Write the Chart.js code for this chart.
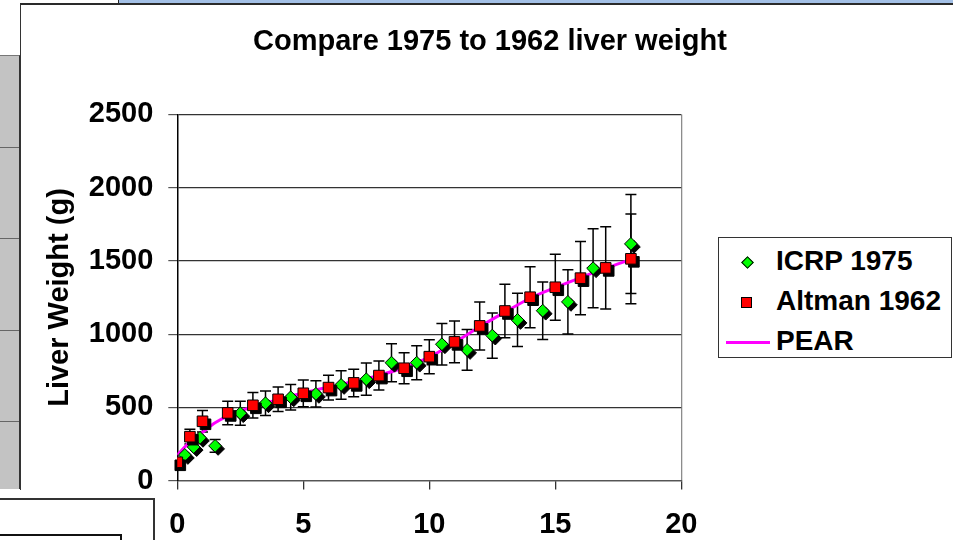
<!DOCTYPE html>
<html>
<head>
<meta charset="utf-8">
<title>Compare 1975 to 1962 liver weight</title>
<script src="https://cdn.jsdelivr.net/npm/chart.js@4.4.1/dist/chart.umd.min.js"></script>
<style>
  html, body { margin: 0; padding: 0; background: #fff; }
  body { width: 953px; height: 540px; position: relative; overflow: hidden; font-family: "Liberation Sans", Arial, sans-serif; }
  .band { position: absolute; left: 118px; top: 0; width: 840px; height: 3px; background: #a3c0e6; border-left: 1px solid #222; }
  .frame { position: absolute; left: 20px; top: 3px; width: 960px; height: 560px; border-top: 2px solid #2a2a2a; border-left: 1px solid #333; background: #fff; }
  .cells { position: absolute; left: 0; top: 55px; width: 19px; height: 433px; background: #c3c3c3; border-top: 1px solid #777; border-right: 1px solid #333; }
  .cells div { position: absolute; left: 0; width: 19px; height: 0; border-top: 1px solid #666; }
  .gap { position: absolute; left: 0; top: 490px; width: 23px; height: 10px; background: #fff; }
  #chart { position: absolute; left: 0; top: 0; z-index: 1; }
  .note { position: absolute; left: -3px; top: 498px; width: 154px; height: 60px; background: #fff; border: 2px solid #333; z-index: 2; }
  .note div { position: absolute; left: -2px; top: 34px; width: 121px; height: 30px; border: 2px solid #111; }
  #legend { position: absolute; left: 718px; top: 237px; width: 232px; height: 119px; border: 1px solid #333; background: #fff; z-index: 2; }
  #legend .item { position: absolute; left: 57px; height: 28px; line-height: 28px; font-size: 28px; font-weight: bold; color: #000; white-space: nowrap; }
  #legend .mark { position: absolute; box-sizing: border-box; }
</style>
</head>
<body>
<div class="band"></div>
<div class="frame"></div>
<div class="cells"><div style="top:91px"></div><div style="top:182px"></div><div style="top:274px"></div><div style="top:365px"></div></div>
<div class="gap"></div>
<canvas id="chart" width="953" height="540"></canvas>
<div id="legend"></div>
<div class="note"><div></div></div>
<script>
// ICRP 1975 reference values: age (years), liver weight (g), +/- spread
const icrpAge = [0.3, 0.65, 0.9, 1.5, 2.5, 3.5, 4.5, 5.5, 6.5, 7.5, 8.5, 9.5, 10.5, 11.5, 12.5, 13.5, 14.5, 15.5, 16.5, 18];
const icrpWeight = [175, 229, 292, 237, 460, 528, 569, 592, 653, 692, 805, 805, 931, 892, 990, 1097, 1160, 1220, 1450, 1616];
const icrpSd = [0, 0, 0, 44, 82, 83, 87, 89, 97, 110, 130, 116, 142, 139, 154, 182, 196, 220, 270, 338];

// Altman 1962
const altmanAge = [0, 0.5, 1, 2, 3, 4, 5, 6, 7, 8, 9, 10, 11, 12, 13, 14, 15, 16, 17, 18];
const altmanWeight = [125, 300, 405, 462, 514, 555, 596, 635, 667, 717, 767, 846, 947, 1056, 1158, 1252, 1320, 1382, 1452, 1514];
const altmanSd = [0, 50, 73, 80, 87, 84, 91, 85, 94, 99, 105, 116, 142, 164, 182, 208, 225, 250, 281, 306];

// PEAR curve
const pearAge = [0, 0.5, 1, 1.5, 2, 3, 4, 5, 6, 7, 8, 9, 10, 11, 12, 13, 14, 15, 16, 17, 18];
const pearWeight = [175, 265, 330, 395, 440, 505, 553, 598, 638, 676, 718, 772, 843, 942, 1050, 1150, 1245, 1318, 1385, 1450, 1510];

const ageTicks = { min: 0, max: 20, step: 5 };
const weightTicks = { min: 0, max: 2500, step: 500 };

const FONT = "'Liberation Sans', Arial, sans-serif";
Chart.defaults.font.family = FONT;

function toPoints(xs, ys) {
    return xs.map((x, i) => ({ x: x, y: ys[i] }));
}

// vertical +/- bars with caps, drawn under the markers
const errorBarPlugin = {
    id: "errorBars",
    beforeDatasetsDraw(chart) {
        const ctx = chart.ctx;
        const xs = chart.scales.x;
        const ys = chart.scales.y;
        ctx.save();
        ctx.strokeStyle = "#000";
        ctx.lineWidth = 1.5;
        chart.data.datasets.forEach(ds => {
            if (!ds.errorBars) return;
            ds.data.forEach((p, i) => {
                const e = ds.errorBars[i];
                if (!e) return;
                const x = xs.getPixelForValue(p.x);
                const top = ys.getPixelForValue(p.y + e);
                const bottom = ys.getPixelForValue(p.y - e);
                ctx.beginPath();
                ctx.moveTo(x, top); ctx.lineTo(x, bottom);
                ctx.moveTo(x - 5.5, top); ctx.lineTo(x + 5.5, top);
                ctx.moveTo(x - 5.5, bottom); ctx.lineTo(x + 5.5, bottom);
                ctx.stroke();
            });
        });
        ctx.restore();
    }
};

// solid black drop shadow behind each marker
const shadowPlugin = {
    id: "markerShadow",
    beforeDatasetDraw(chart, args) {
        const ds = chart.data.datasets[args.index];
        if (!ds.shadow) return;
        const ctx = chart.ctx;
        ctx.save();
        ctx.fillStyle = "#000";
        ctx.strokeStyle = "#000";
        ctx.lineWidth = 1;
        args.meta.data.forEach(pt => {
            const o = pt.options;
            Chart.helpers.drawPoint(ctx, {
                pointStyle: o.pointStyle,
                radius: o.radius,
                rotation: o.rotation,
                borderWidth: o.borderWidth
            }, pt.x + 3, pt.y + 3);
        });
        ctx.restore();
    }
};

const chart = new Chart(document.getElementById("chart"), {
    type: "scatter",
    data: {
        datasets: [{
            label: "ICRP 1975",
            data: toPoints(icrpAge, icrpWeight),
            errorBars: icrpSd,
            shadow: true,
            pointStyle: "rectRot",
            pointRadius: 6.4,
            backgroundColor: "#00ff00",
            borderColor: "#000",
            borderWidth: 1,
            order: 2
        }, {
            label: "Altman 1962",
            data: toPoints(altmanAge, altmanWeight),
            errorBars: altmanSd,
            shadow: true,
            pointStyle: "rect",
            pointRadius: 7.5,
            backgroundColor: "#ff0000",
            borderColor: "#000",
            borderWidth: 1,
            order: 1
        }, {
            label: "PEAR",
            data: toPoints(pearAge, pearWeight),
            showLine: true,
            pointRadius: 0,
            borderColor: "#ff00ff",
            backgroundColor: "#ff00ff",
            borderWidth: 3,
            cubicInterpolationMode: "monotone",
            order: 3
        }]
    },
    options: {
        responsive: false,
        animation: false,
        devicePixelRatio: 1,
        layout: { padding: { left: 27, right: 0, top: 0, bottom: 0 } },
        plugins: {
            legend: { display: false },
            tooltip: { enabled: false },
            title: {
                display: true,
                text: "Compare 1975 to 1962 liver weight",
                color: "#000",
                font: { size: 29, weight: "bold" },
                padding: { top: 25, bottom: 54.6 }
            }
        },
        scales: {
            x: {
                type: "linear",
                position: "bottom",
                min: ageTicks.min,
                max: ageTicks.max,
                ticks: {
                    stepSize: ageTicks.step,
                    padding: 18,
                    color: "#000",
                    font: { size: 29, weight: "bold" }
                },
                grid: {
                    color: c => (c.tick && c.tick.value === ageTicks.max) ? "#8c8c8c" : "transparent",
                    lineWidth: 1.3,
                    tickColor: "#333",
                    tickLength: 9
                },
                border: { color: "#555", width: 1.3 },
                afterFit: s => { s.height = 59.4; }
            },
            y: {
                type: "linear",
                position: "left",
                min: weightTicks.min,
                max: weightTicks.max,
                ticks: {
                    stepSize: weightTicks.step,
                    padding: 15,
                    color: "#000",
                    font: { size: 29, weight: "bold" },
                    callback: v => String(v)
                },
                grid: { color: "#333", lineWidth: 1.2, tickColor: "#555", tickLength: 9 },
                border: { color: "#000", width: 1.5 },
                title: {
                    display: true,
                    text: "Liver Weight (g)",
                    color: "#000",
                    font: { size: 29, weight: "bold" },
                    padding: { top: 16, bottom: 0 }
                },
                afterFit: s => { s.width = 150.3; }
            },
            // keeps room on the right for the legend box
            spacer: {
                type: "linear",
                position: "right",
                display: true,
                grid: { display: false },
                border: { display: false },
                ticks: { display: false },
                afterFit: s => { s.width = 271.7; }
            }
        }
    },
    plugins: [errorBarPlugin, shadowPlugin]
});

// legend box built from the datasets
const legend = document.getElementById("legend");
chart.data.datasets.forEach((ds, i) => {
    const top = 9 + i * 40;
    const item = document.createElement("div");
    item.className = "item";
    item.style.top = top + "px";
    item.textContent = ds.label;
    legend.appendChild(item);

    const mark = document.createElement("div");
    mark.className = "mark";
    if (ds.pointStyle === "rectRot") {
        Object.assign(mark.style, { left: "23.5px", top: (top + 10.5) + "px", width: "9px", height: "9px",
            background: ds.backgroundColor, border: "1px solid #000", transform: "rotate(45deg)" });
    } else if (ds.pointStyle === "rect") {
        Object.assign(mark.style, { left: "22px", top: (top + 9.5) + "px", width: "11px", height: "11px",
            background: ds.backgroundColor, border: "1px solid #000" });
    } else {
        Object.assign(mark.style, { left: "7px", top: (top + 13.5) + "px", width: "44px", height: "3px",
            background: ds.borderColor });
    }
    legend.appendChild(mark);
});
</script>
</body>
</html>
